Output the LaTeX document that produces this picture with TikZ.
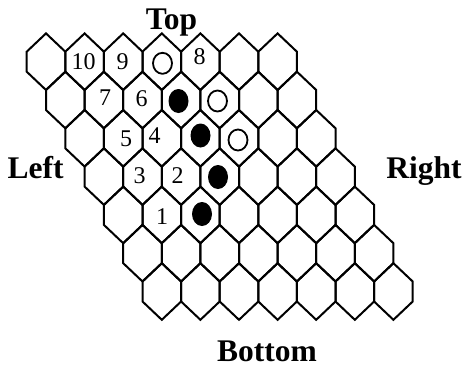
\documentclass[tikz,border=0pt]{standalone}
\usepackage{fontspec}
\setmainfont{Liberation Serif}
\usetikzlibrary{shapes.geometric}

\tikzset{
	hexcell/.style={line width=2pt},
	cellnum/.style={inner sep=0pt, font=\fontsize{24}{24}\selectfont},
	side/.style={inner sep=0pt, anchor=base, font=\fontsize{31.5}{32}\selectfont\bfseries},
	blackstone/.style={ellipse, fill=black, inner sep=0pt, minimum width=20pt, minimum height=24pt},
	whitestone/.style={ellipse, draw, line width=1.8pt, inner sep=0pt, minimum width=19pt, minimum height=21pt}
}

\begin{document}
\begin{tikzpicture}[x=1pt,y=-1pt]
	\useasboundingbox (0,0) rectangle (463,367);

	% the board
	\foreach \r in {0,...,6}
		\foreach \c in {0,...,6}
			\draw[hexcell] ({46+38.6*\c+19.3*\r},{61.7+38.3*\r}) ++(0,-28.3)
				-- ++(19.3,18.3) -- ++(0,20) -- ++(-19.3,18.3)
				-- ++(-19.3,-18.3) -- ++(0,-20) -- cycle;

	% sides
	\node[side] (top) at (171.5, 29) {Top};
	\node[side] (left) at (35.7, 178) {Left};
	\node[side] (right) at (424, 178) {Right};
	\node[side] (bottom) at (267, 361) {Bottom};

	% numbered cells
	\node[cellnum] (n10) at (83.5, 61.5) {10};
	\node[cellnum] (n9) at (122.5, 61.5) {9};
	\node[cellnum] (n8) at (199.5, 57) {8};
	\node[cellnum] (n7) at (105, 97.5) {7};
	\node[cellnum] (n6) at (141.5, 99) {6};
	\node[cellnum] (n5) at (126, 139) {5};
	\node[cellnum] (n4) at (154.5, 135.5) {4};
	\node[cellnum] (n3) at (139.5, 176) {3};
	\node[cellnum] (n2) at (177.5, 176) {2};
	\node[cellnum] (n1) at (162, 217) {1};

	% stones
	\node[whitestone] (w1) at (162.5, 63.3) {};
	\node[whitestone] (w2) at (217.5, 101) {};
	\node[whitestone] (w3) at (238, 140) {};
	\node[blackstone] (b1) at (178.5, 101) {};
	\node[blackstone] (b2) at (200.5, 135.5) {};
	\node[blackstone] (b3) at (218, 177) {};
	\node[blackstone] (b4) at (202, 214) {};
\end{tikzpicture}
\end{document}
